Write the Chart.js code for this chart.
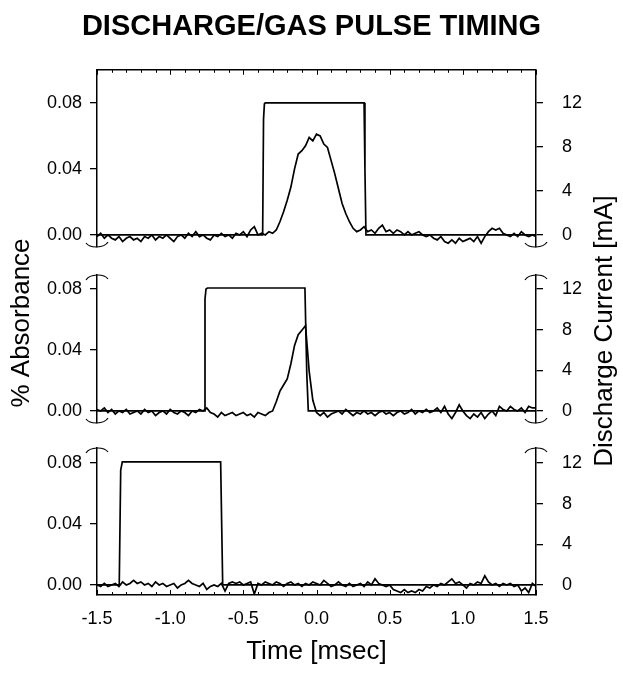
<!DOCTYPE html>
<html>
<head>
<meta charset="utf-8">
<title>Discharge/Gas Pulse Timing</title>
<script src="https://cdn.jsdelivr.net/npm/chart.js@4.4.1/dist/chart.umd.min.js"></script>
<style>
    html, body { margin: 0; padding: 0; background: #fff; }
    #wrap { position: relative; width: 623px; height: 673px; }
    #wrap canvas { position: absolute; left: 0; top: 0; }
</style>
</head>
<body>
<div id="wrap">
    <canvas id="panel1" width="623" height="673"></canvas>
    <canvas id="panel2" width="623" height="673"></canvas>
    <canvas id="panel3" width="623" height="673"></canvas>
</div>
<script>
const FONT = "'Liberation Sans', Arial, Helvetica, sans-serif";
const INK = '#000';

// time base of the absorbance traces [msec]
const timeMs = [
    -1.500, -1.475, -1.450, -1.425, -1.400, -1.375, -1.350, -1.325, -1.300, -1.275,
    -1.250, -1.225, -1.200, -1.175, -1.150, -1.125, -1.100, -1.075, -1.050, -1.025,
    -1.000, -0.975, -0.950, -0.925, -0.900, -0.875, -0.850, -0.825, -0.800, -0.775,
    -0.750, -0.725, -0.700, -0.675, -0.650, -0.625, -0.600, -0.575, -0.550, -0.525,
    -0.500, -0.475, -0.450, -0.425, -0.400, -0.375, -0.350, -0.325, -0.300, -0.275,
    -0.250, -0.225, -0.200, -0.175, -0.150, -0.125, -0.100, -0.075, -0.050, -0.025,
    0.000, 0.025, 0.050, 0.075, 0.100, 0.125, 0.150, 0.175, 0.200, 0.225,
    0.250, 0.275, 0.300, 0.325, 0.350, 0.375, 0.400, 0.425, 0.450, 0.475,
    0.500, 0.525, 0.550, 0.575, 0.600, 0.625, 0.650, 0.675, 0.700, 0.725,
    0.750, 0.775, 0.800, 0.825, 0.850, 0.875, 0.900, 0.925, 0.950, 0.975,
    1.000, 1.025, 1.050, 1.075, 1.100, 1.125, 1.150, 1.175, 1.200, 1.225,
    1.250, 1.275, 1.300, 1.325, 1.350, 1.375, 1.400, 1.425, 1.450, 1.475,
    1.500
];

// % absorbance, top / middle / bottom panel
const absorb1 = [
    -0.001, 0.001, -0.002, 0.000, -0.002, -0.003, -0.001, -0.004, -0.002, -0.001,
    -0.003, -0.002, -0.004, -0.001, -0.002, 0.000, -0.003, -0.001, -0.002, 0.000,
    -0.002, -0.004, -0.001, 0.000, -0.002, 0.001, -0.001, 0.002, -0.001, 0.000,
    -0.002, -0.003, 0.000, -0.001, 0.001, -0.001, 0.000, -0.002, 0.001, 0.000,
    0.002, -0.001, 0.003, 0.005, 0.000, 0.001, 0.000, 0.002, 0.001, 0.003,
    0.008, 0.014, 0.021, 0.029, 0.040, 0.049, 0.051, 0.054, 0.059, 0.057,
    0.061, 0.060, 0.055, 0.053, 0.045, 0.037, 0.028, 0.019, 0.013, 0.008,
    0.004, 0.002, 0.003, 0.005, 0.002, 0.003, 0.001, 0.004, 0.006, 0.002,
    0.003, 0.001, 0.003, 0.002, 0.000, 0.002, 0.000, 0.001, 0.002, 0.000,
    -0.001, 0.000, -0.002, -0.003, -0.001, -0.004, -0.005, -0.003, -0.005, -0.002,
    -0.004, -0.003, -0.002, -0.004, -0.001, -0.005, -0.001, 0.002, 0.004, 0.003,
    0.004, 0.001, 0.000, -0.001, 0.001, -0.001, 0.002, 0.000, -0.001, 0.000,
    -0.001
];
const absorb2 = [
    0.001, 0.000, 0.002, -0.001, 0.001, -0.002, 0.000, -0.001, 0.001, -0.002,
    -0.001, 0.000, -0.002, 0.001, -0.001, 0.000, -0.003, -0.001, 0.000, -0.002,
    0.001, -0.001, -0.002, 0.000, -0.001, -0.003, 0.000, -0.001, 0.001, 0.000,
    0.002, -0.001, -0.002, -0.004, -0.001, -0.003, -0.002, -0.001, -0.003, -0.002,
    -0.001, -0.003, -0.002, -0.004, -0.001, -0.002, -0.003, -0.001, 0.000, 0.006,
    0.013, 0.017, 0.021, 0.031, 0.043, 0.050, 0.053, 0.056, 0.026, 0.007,
    -0.001, -0.003, -0.001, -0.004, -0.002, -0.001, 0.000, -0.002, 0.001, -0.001,
    -0.003, -0.001, -0.002, 0.000, -0.002, -0.001, -0.003, -0.001, 0.000, -0.002,
    -0.001, -0.003, -0.001, 0.000, -0.002, -0.001, 0.001, -0.002, 0.000, -0.001,
    0.001, -0.001, 0.000, 0.002, -0.001, 0.003, -0.002, -0.005, -0.001, 0.004,
    0.000, -0.003, -0.005, -0.002, -0.004, -0.001, -0.005, -0.002, 0.000, -0.003,
    0.003, 0.001, 0.000, 0.003, 0.001, 0.000, 0.002, -0.001, 0.003, 0.002,
    0.002
];
const absorb3 = [
    0.000, -0.001, 0.001, -0.001, 0.000, 0.001, -0.001, 0.002, 0.000, 0.001,
    0.003, 0.001, 0.002, 0.000, 0.001, -0.001, 0.002, 0.000, 0.001, -0.001,
    0.000, 0.001, -0.002, 0.000, 0.001, 0.003, 0.001, 0.000, -0.001, 0.001,
    -0.003, -0.001, 0.000, -0.001, 0.001, -0.004, 0.001, 0.002, 0.001, 0.002,
    0.000, 0.001, 0.002, -0.006, 0.001, 0.000, 0.002, 0.001, 0.000, 0.002,
    0.001, -0.001, 0.001, 0.002, 0.000, 0.001, -0.001, 0.001, 0.000, 0.002,
    0.001, 0.000, 0.003, 0.001, -0.001, 0.000, 0.002, 0.000, -0.001, 0.001,
    -0.001, 0.000, 0.001, -0.001, 0.002, 0.000, 0.004, 0.001, 0.000, -0.001,
    0.000, -0.003, -0.004, -0.005, -0.003, -0.005, -0.004, -0.005, -0.003, -0.004,
    -0.001, -0.002, 0.000, -0.001, 0.001, 0.000, 0.002, 0.004, 0.001, 0.002,
    0.000, -0.002, 0.001, 0.000, 0.002, 0.001, 0.006, 0.002, 0.000, 0.001,
    -0.001, 0.001, 0.000, 0.001, -0.001, 0.000, -0.004, -0.002, -0.005, 0.001,
    -0.001
];

// discharge current pulses [mA]
const pulseTime1 = [-1.5, -0.368, -0.362, -0.356, -0.350, 0.325, 0.331, 0.338, 1.5];
const pulse1     = [0, 0, 10.5, 11.9, 12.0, 12.0, 6, 0, 0];
const pulseTime2 = [-1.5, -0.768, -0.762, -0.755, -0.745, -0.079, -0.073, -0.066, -0.056, 1.5];
const pulse2     = [0, 0, 11.0, 12.0, 12.1, 12.1, 8, 3.5, 0, 0];
const pulseTime3 = [-1.5, -1.348, -1.338, -1.327, -0.655, -0.648, -0.641, 1.5];
const pulse3     = [0, 0, 11.3, 12.1, 12.1, 6, 0, 0];

const absTicks = [0, 0.04, 0.08];
const currentTicks = [0, 4, 8, 12];
const timeTicks = [-1.5, -1.0, -0.5, 0.0, 0.5, 1.0, 1.5];

const mAperAbs = 150; // 0.08 % lines up with 12 mA

function toPoints(xs, ys) {
    return xs.map((x, i) => ({ x: x, y: ys[i] }));
}

// axis break squiggles, top border + inward minor ticks
const frameBits = {
    id: 'frameBits',
    afterDraw(chart, args, opts) {
        const ctx = chart.ctx;
        const a = chart.chartArea;
        const xs = chart.scales.x;
        ctx.save();
        ctx.strokeStyle = INK;
        ctx.lineWidth = 1.4;

        if (opts.topFrame) {
            ctx.beginPath();
            ctx.moveTo(a.left, a.top);
            ctx.lineTo(a.right, a.top);
            ctx.stroke();
        }
        if (opts.topTicks || opts.bottomTicks) {
            ctx.lineWidth = 1;
            for (let k = -15; k <= 15; k++) {
                const px = Math.round(xs.getPixelForValue(k / 10)) + 0.5;
                const len = k % 5 === 0 ? 5 : 3;
                ctx.beginPath();
                if (opts.topTicks) {
                    ctx.moveTo(px, a.top);
                    ctx.lineTo(px, a.top + len);
                } else {
                    ctx.moveTo(px, a.bottom);
                    ctx.lineTo(px, a.bottom - len);
                }
                ctx.stroke();
            }
        }

        ctx.lineWidth = 1.2;
        [a.left, a.right].forEach(function (x) {
            if (opts.breakTop) {
                ctx.beginPath();
                ctx.moveTo(x - 11, a.top + 5);
                ctx.bezierCurveTo(x - 7, a.top - 1.5, x + 7, a.top - 1.5, x + 11, a.top + 4);
                ctx.stroke();
            }
            if (opts.breakBottom) {
                ctx.beginPath();
                ctx.moveTo(x - 11, a.bottom - 4);
                ctx.bezierCurveTo(x - 7, a.bottom + 1.5, x + 7, a.bottom + 1.5, x + 11, a.bottom - 5);
                ctx.stroke();
            }
        });
        ctx.restore();
    }
};

// the two y titles span all three panels
const sideTitles = {
    id: 'sideTitles',
    afterDraw(chart, args, opts) {
        if (!opts.show) return;
        const ctx = chart.ctx;
        ctx.save();
        ctx.fillStyle = INK;
        ctx.font = '26px ' + FONT;
        ctx.textAlign = 'center';
        ctx.textBaseline = 'middle';

        ctx.translate(22, 323);
        ctx.rotate(-Math.PI / 2);
        ctx.fillText('% Absorbance', 0, 0);
        ctx.setTransform(1, 0, 0, 1, 0, 0);

        ctx.translate(605, 331);
        ctx.rotate(-Math.PI / 2);
        ctx.fillText('Discharge Current [mA]', 0, 0);
        ctx.restore();
    }
};

function leftAxis(min, max) {
    return {
        position: 'left',
        min: min,
        max: max,
        afterFit: function (s) { s.width = 97; },
        afterBuildTicks: function (s) { s.ticks = absTicks.map(v => ({ value: v })); },
        ticks: {
            callback: v => v.toFixed(2),
            color: INK,
            font: { family: FONT, size: 18 },
            padding: 8
        },
        grid: { drawOnChartArea: false, tickLength: 7, color: INK, lineWidth: 1.3 },
        border: { display: true, color: INK, width: 1.5 }
    };
}

function rightAxis(min, max) {
    return {
        position: 'right',
        min: min * mAperAbs,
        max: max * mAperAbs,
        afterFit: function (s) { s.width = 87; },
        afterBuildTicks: function (s) { s.ticks = currentTicks.map(v => ({ value: v })); },
        ticks: {
            callback: v => String(v),
            color: INK,
            font: { family: FONT, size: 18 },
            padding: 19
        },
        grid: { drawOnChartArea: false, tickLength: 7, color: INK, lineWidth: 1.3 },
        border: { display: true, color: INK, width: 1.5 }
    };
}

function makePanel(id, absorb, pulseT, pulse, yMin, yMax, padding, frame, bottomAxis, title, sides) {
    const xAxis = {
        type: 'linear',
        min: -1.5,
        max: 1.5,
        display: false
    };
    if (bottomAxis) {
        Object.assign(xAxis, {
            display: true,
            position: 'bottom',
            afterFit: function (s) { s.height = 78; },
            afterBuildTicks: function (s) { s.ticks = timeTicks.map(v => ({ value: v })); },
            ticks: {
                callback: v => v.toFixed(1),
                color: INK,
                font: { family: FONT, size: 18 },
                padding: 13,
                maxRotation: 0,
                autoSkip: false
            },
            grid: { drawOnChartArea: false, drawTicks: false },
            border: { display: true, color: INK, width: 1.5 },
            title: {
                display: true,
                text: 'Time [msec]',
                color: INK,
                font: { family: FONT, size: 26 },
                padding: { top: 0, bottom: 6 }
            }
        });
    }

    return new Chart(document.getElementById(id), {
        type: 'line',
        data: {
            datasets: [{
                label: 'Discharge current',
                data: toPoints(pulseT, pulse),
                yAxisID: 'yC',
                borderColor: INK,
                borderWidth: 1.7,
                pointRadius: 0,
                tension: 0
            }, {
                label: '% Absorbance',
                data: toPoints(timeMs, absorb),
                yAxisID: 'yA',
                borderColor: INK,
                borderWidth: 1.7,
                pointRadius: 0,
                tension: 0
            }]
        },
        options: {
            responsive: false,
            animation: false,
            layout: { padding: padding },
            scales: {
                x: xAxis,
                yA: leftAxis(yMin, yMax),
                yC: rightAxis(yMin, yMax)
            },
            plugins: {
                legend: { display: false },
                tooltip: { enabled: false },
                title: title ? {
                    display: true,
                    text: title,
                    color: INK,
                    font: { family: FONT, size: 29, weight: 'bold' },
                    padding: { top: 10, bottom: 25 }
                } : { display: false },
                frameBits: frame,
                sideTitles: { show: !!sides }
            }
        },
        plugins: [frameBits, sideTitles]
    });
}

makePanel('panel1', absorb1, pulseTime1, pulse1, -0.0073, 0.100,
    { left: 0, right: 0, top: 0, bottom: 426 },
    { topFrame: true, topTicks: true, breakBottom: true },
    false, 'DISCHARGE/GAS PULSE TIMING', false);

makePanel('panel2', absorb2, pulseTime2, pulse2, -0.0079, 0.0892,
    { left: 0, right: 0, top: 275, bottom: 250 },
    { breakTop: true, breakBottom: true },
    false, null, true);

makePanel('panel3', absorb3, pulseTime3, pulse3, -0.0066, 0.0898,
    { left: 0, right: 0, top: 448, bottom: 0 },
    { breakTop: true, bottomTicks: true },
    true, null, false);
</script>
</body>
</html>
